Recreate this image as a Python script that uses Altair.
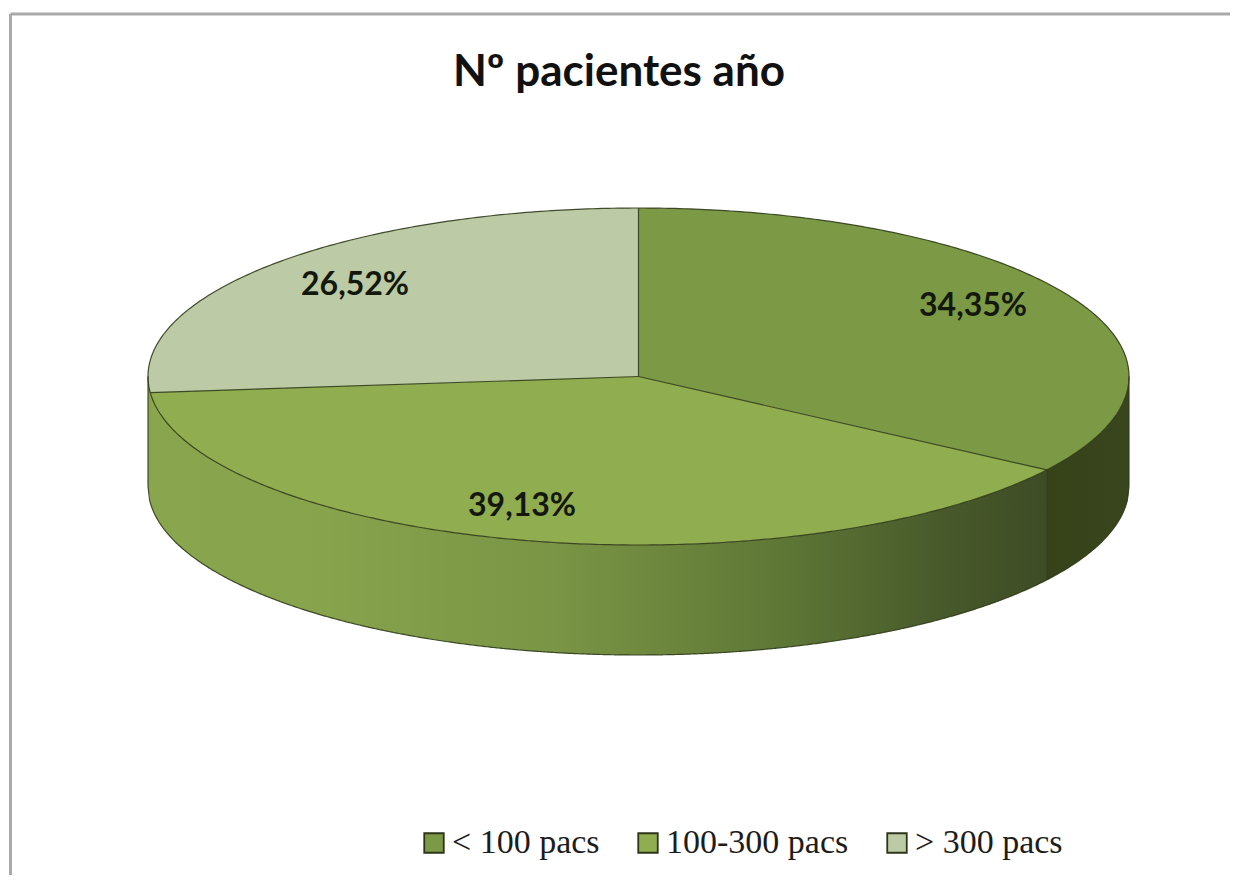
import numpy as np
import pandas as pd
import altair as alt

categories = ["< 100 pacs", "100-300 pacs", "> 300 pacs"]
shares = [34.35, 39.13, 26.52]
labels = ["34,35%", "39,13%", "26,52%"]
top_colors = ["#7c9a45", "#90ad50", "#bccba5"]
title_text = "Nº pacientes año"

# layout (page pixels of the tilted disc)
W, H = 1222, 867
CX, CY, RX, RY, DEPTH = 638.5, 376.5, 490.5, 168.5, 110 / 168.5
label_u = [0.682, -0.2375, -0.578]
label_v = [0.418, -0.769, 0.543]

fr = np.cumsum([0] + shares) / sum(shares)
ang = fr * 2 * np.pi
xb, yb = np.sin(ang[1]), np.cos(ang[1])
xl, yl = np.sin(ang[2]), np.cos(ang[2])


def circ(x):
    return np.sqrt(np.clip(1 - x * x, 0, 1))


def grid(a, b, n=300):
    return np.linspace(a, b, n)


rows = []
x1 = np.concatenate([grid(0, xb), grid(xb, 1)])
for x in x1:
    rows.append((categories[0], x, circ(x), (yb / xb * x) if x <= xb else -circ(x)))
x2 = np.concatenate([grid(xl, 0), grid(0, xb)])
for x in x2:
    up = (yl / xl * x) if x <= 0 else (yb / xb * x)
    rows.append((categories[1], x, up, -circ(x)))
x3 = np.concatenate([grid(-1, xl, 30), grid(xl, 0)])
for x in x3:
    rows.append((categories[2], x, circ(x), (yl / xl * x) if x >= xl else -circ(x)))
slices = pd.DataFrame(rows, columns=["cat", "x", "y", "y2"])

x_dom = [(8 - CX) / RX, (8 + W - CX) / RX]
y_dom = [(CY - 8 - H) / RY, (CY - 8) / RY]
xs = alt.Scale(domain=x_dom, nice=False, zero=False)
ys = alt.Scale(domain=y_dom, nice=False, zero=False)
X = alt.X("x:Q", scale=xs, axis=None)
Y = alt.Y("y:Q", scale=ys, axis=None)


def wall(a, b):
    x = grid(a, b)
    return pd.DataFrame({"x": x, "y": -circ(x), "y2": -circ(x) - DEPTH})


grad_front = alt.Gradient(
    gradient="linear", x1=0, x2=1, y1=0, y2=0,
    stops=[
        alt.GradientStop(offset=0.0, color="#89a54d"),
        alt.GradientStop(offset=0.2, color="#87a34c"),
        alt.GradientStop(offset=0.45, color="#7a9545"),
        alt.GradientStop(offset=0.7, color="#5f7836"),
        alt.GradientStop(offset=0.88, color="#485a2b"),
        alt.GradientStop(offset=1.0, color="#3e4c25"),
    ],
)
grad_side = alt.Gradient(
    gradient="linear", x1=0, x2=1, y1=0, y2=0,
    stops=[
        alt.GradientStop(offset=0.0, color="#364218"),
        alt.GradientStop(offset=1.0, color="#39451d"),
    ],
)
wall_front = alt.Chart(wall(-1, xb)).mark_area(color=grad_front).encode(x=X, y=Y, y2="y2:Q")
wall_side = alt.Chart(wall(xb, 1)).mark_area(color=grad_side).encode(x=X, y=Y, y2="y2:Q")

top = alt.Chart(slices).mark_area().encode(
    x=X,
    y=Y,
    y2="y2:Q",
    color=alt.Color(
        "cat:N",
        scale=alt.Scale(domain=categories, range=top_colors),
        legend=alt.Legend(
            orient="none", legendX=409, legendY=818, direction="horizontal", title=None,
            symbolType="square", symbolSize=380, symbolStrokeColor="#2c3518",
            symbolStrokeWidth=1.8, symbolOpacity=1, labelFont="Liberation Serif",
            labelFontSize=34, labelColor="#1c1c1c", columnPadding=31, labelOffset=1,
            labelLimit=400,
        ),
    ),
    order=alt.Order("cat:N"),
)

th = np.linspace(0, 2 * np.pi, 600)
edge_rows = []
for i, t in enumerate(th):
    edge_rows.append(("rim", i, np.sin(t), np.cos(t)))
for name, px, py in [("r1", xb, yb), ("r2", xl, yl), ("r0", 0.0, 1.0)]:
    edge_rows.append((name, 0, 0.0, 0.0))
    edge_rows.append((name, 1, px, py))
edge_rows.append(("v1", 0, xb, yb))
edge_rows.append(("v1", 1, xb, yb - DEPTH))
for i, x in enumerate(np.linspace(-1, 1, 600)):
    edge_rows.append(("base", i, x, -circ(x) - DEPTH))
edge_rows.append(("vl", 0, -1.0, 0.0))
edge_rows.append(("vl", 1, -1.0, -DEPTH))
edge_rows.append(("vr", 0, 1.0, 0.0))
edge_rows.append(("vr", 1, 1.0, -DEPTH))
edges = pd.DataFrame(edge_rows, columns=["g", "i", "x", "y"])
lines = alt.Chart(edges).mark_line(color="#2f3b18", strokeWidth=1.2, opacity=0.9).encode(
    x=X, y=Y, detail="g:N", order="i:Q"
)

lab = pd.DataFrame({"x": label_u, "y": label_v, "t": labels})
text = alt.Chart(lab).mark_text(
    font="Lato", fontWeight="bold", fontSize=32, color="#14180c"
).encode(x=X, y=Y, text="t:N")

bx = (10.5 - CX) / RX
by = (CY - 14) / RY
border_top = alt.Chart(pd.DataFrame({"x": [bx], "x2": [x_dom[1]], "y": [by]})).mark_rule(
    color="#a9a9a9", strokeWidth=3
).encode(x=X, x2="x2:Q", y=Y)
border_left = alt.Chart(pd.DataFrame({"x": [bx], "y": [by], "y2": [y_dom[0]]})).mark_rule(
    color="#a9a9a9", strokeWidth=3
).encode(x=X, y=Y, y2="y2:Q")

chart = (
    alt.layer(border_top, border_left, wall_front, wall_side, top, lines, text)
    .properties(
        width=W,
        height=H,
        padding=0,
        autosize=alt.AutoSizeParams(type="none"),
        background="white",
        title=alt.TitleParams(
            title_text, font="Lato", fontWeight="bold", fontSize=44, color="#111111",
            anchor="middle", offset=-87, frame="group",
        ),
    )
    .configure_view(stroke=None)
)
chart.save("out.html", embed_options={"renderer": "svg", "actions": False})
